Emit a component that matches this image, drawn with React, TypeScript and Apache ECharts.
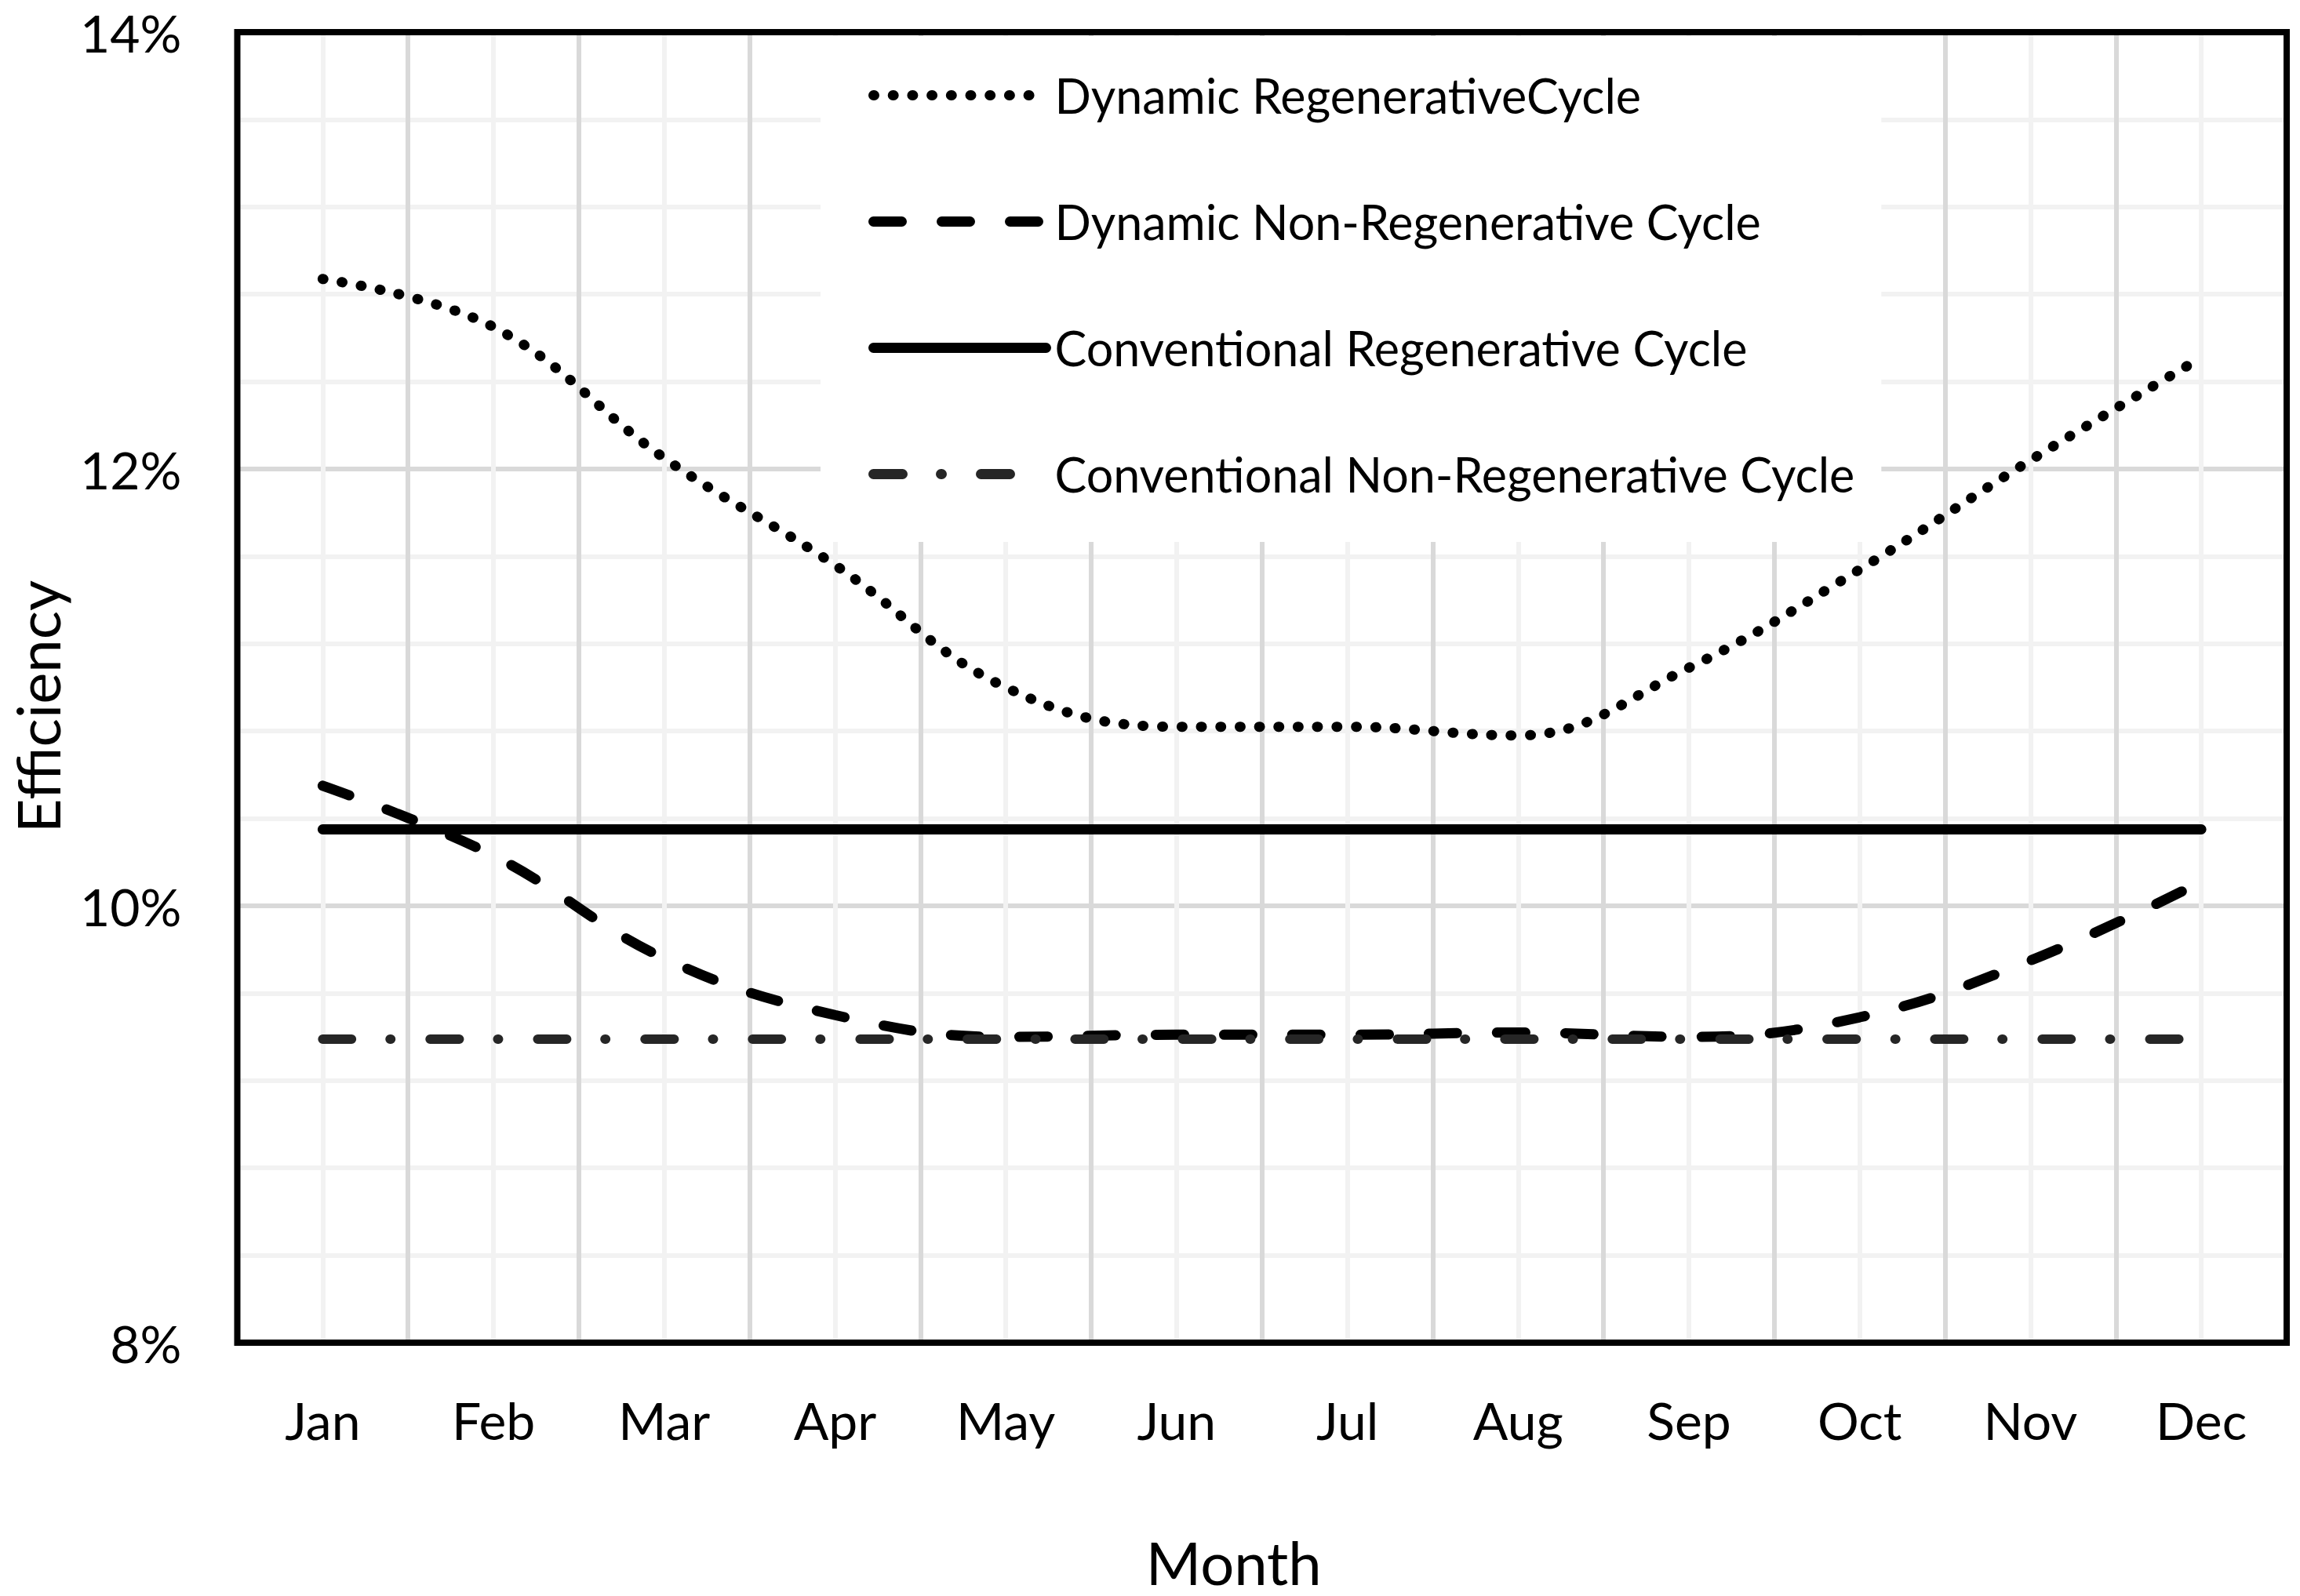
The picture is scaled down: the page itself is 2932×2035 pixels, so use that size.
import React, { useEffect, useRef } from 'react';
import * as echarts from 'echarts';

// ---- data (efficiency in %) ----
const months = ['Jan', 'Feb', 'Mar', 'Apr', 'May', 'Jun', 'Jul', 'Aug', 'Sep', 'Oct', 'Nov', 'Dec'];
const seriesNames = [
  'Dynamic RegenerativeCycle',
  'Dynamic Non-Regenerative Cycle',
  'Conventional Regenerative Cycle',
  'Conventional Non-Regenerative Cycle',
];
const dynamicRegenerative = [12.87, 12.65, 12.05, 11.56, 11.0, 10.82, 10.82, 10.78, 11.09, 11.54, 12.04, 12.51];
const dynamicNonRegenerative = [10.55, 10.23, 9.76, 9.5, 9.4, 9.41, 9.41, 9.42, 9.4, 9.49, 9.75, 10.11];
const conventionalRegenerative = [10.35, 10.35, 10.35, 10.35, 10.35, 10.35, 10.35, 10.35, 10.35, 10.35, 10.35, 10.35];
const conventionalNonRegenerative = [9.39, 9.39, 9.39, 9.39, 9.39, 9.39, 9.39, 9.39, 9.39, 9.39, 9.39, 9.39];
const yMin = 8;
const yMax = 14;
const yStep = 2;

const FONT = 'Lato';

export default function App() {
  const ref = useRef<HTMLDivElement>(null);

  useEffect(() => {
    if (!ref.current) return;
    const chart = echarts.init(ref.current, null, { renderer: 'svg' });
    const G = { left: 302.5, top: 41, width: 2612.5, height: 1671 };

    const mk = (name: string, data: number[], lineStyle: any) => ({
      type: 'line',
      name,
      data,
      xAxisIndex: 0,
      yAxisIndex: 0,
      smooth: 0.4,
      symbol: 'none',
      showSymbol: false,
      itemStyle: { color: lineStyle.color },
      lineStyle,
      z: 3,
    });

    chart.setOption({
      animation: false,
      backgroundColor: '#ffffff',
      textStyle: { fontFamily: FONT, color: '#000' },
      grid: { ...G, show: false, containLabel: false },
      legend: {
        orient: 'vertical',
        left: 1046,
        top: 46,
        padding: [45, 34, 56, 61],
        backgroundColor: '#ffffff',
        itemWidth: 220,
        itemHeight: 14,
        itemGap: 100,
        selectedMode: false,
        itemStyle: { opacity: 0 },
        lineStyle: { width: 13 },
        textStyle: { fontFamily: FONT, fontSize: 61, lineHeight: 60, color: '#000', padding: [0, 0, 0, 6] },
        data: seriesNames,
        z: 4,
      },
      xAxis: [
        {
          type: 'category',
          data: months,
          boundaryGap: true,
          axisLine: { show: false },
          axisTick: { show: false },
          splitLine: { show: false },
          axisLabel: { fontFamily: FONT, fontSize: 66, color: '#000', margin: 98, verticalAlign: 'middle' },
          name: 'Month',
          nameLocation: 'middle',
          nameGap: 244,
          nameTextStyle: { fontFamily: FONT, fontSize: 76, lineHeight: 70, color: '#000', padding: [0, 72, 0, 0] },
        },
        {
          type: 'value',
          min: -0.5,
          max: 11.5,
          interval: 0.5,
          z: 1,
          axisLine: { show: false },
          axisTick: { show: false },
          axisLabel: { show: false },
          splitLine: {
            show: true,
            showMinLine: false,
            showMaxLine: false,
            lineStyle: { color: ['#f2f2f2', '#d9d9d9'], width: 6 },
          },
        },
      ],
      yAxis: {
        type: 'value',
        min: yMin,
        max: yMax,
        interval: yStep,
        z: 0,
        axisLine: { show: false },
        axisTick: { show: false },
        axisLabel: {
          fontFamily: FONT,
          fontSize: 66,
          color: '#000',
          margin: 71,
          formatter: (v: number) => `${Math.round(v)}%`,
        },
        splitLine: { show: true, showMinLine: false, showMaxLine: false, lineStyle: { color: '#d9d9d9', width: 6 } },
        minorTick: { show: false, splitNumber: 5 },
        minorSplitLine: { show: true, lineStyle: { color: '#f2f2f2', width: 6 } },
        name: 'Efficiency',
        nameLocation: 'middle',
        nameGap: 217,
        nameRotate: 90,
        nameTextStyle: { fontFamily: FONT, fontSize: 76, color: '#000', padding: [0, 49, 0, 0] },
      },
      series: [
        mk(seriesNames[0], dynamicRegenerative, { color: '#000', width: 13, type: [1, 23.7], cap: 'round' }),
        mk(seriesNames[1], dynamicNonRegenerative, { color: '#000', width: 13, type: [36, 51], cap: 'round' }),
        mk(seriesNames[2], conventionalRegenerative, { color: '#000', width: 13, type: 'solid', cap: 'round' }),
        mk(seriesNames[3], conventionalNonRegenerative, { color: '#262626', width: 12, type: [37, 49, 1, 50], cap: 'round' }),
      ],
      graphic: [
        {
          type: 'rect',
          silent: true,
          z: 100,
          shape: { x: G.left, y: G.top, width: G.width, height: G.height },
          style: { fill: 'none', stroke: '#000', lineWidth: 8 },
        },
      ],
    });

    return () => chart.dispose();
  }, []);

  return <div ref={ref} style={{ position: 'fixed', left: 0, top: 0, width: 2932, height: 2035 }} />;
}
